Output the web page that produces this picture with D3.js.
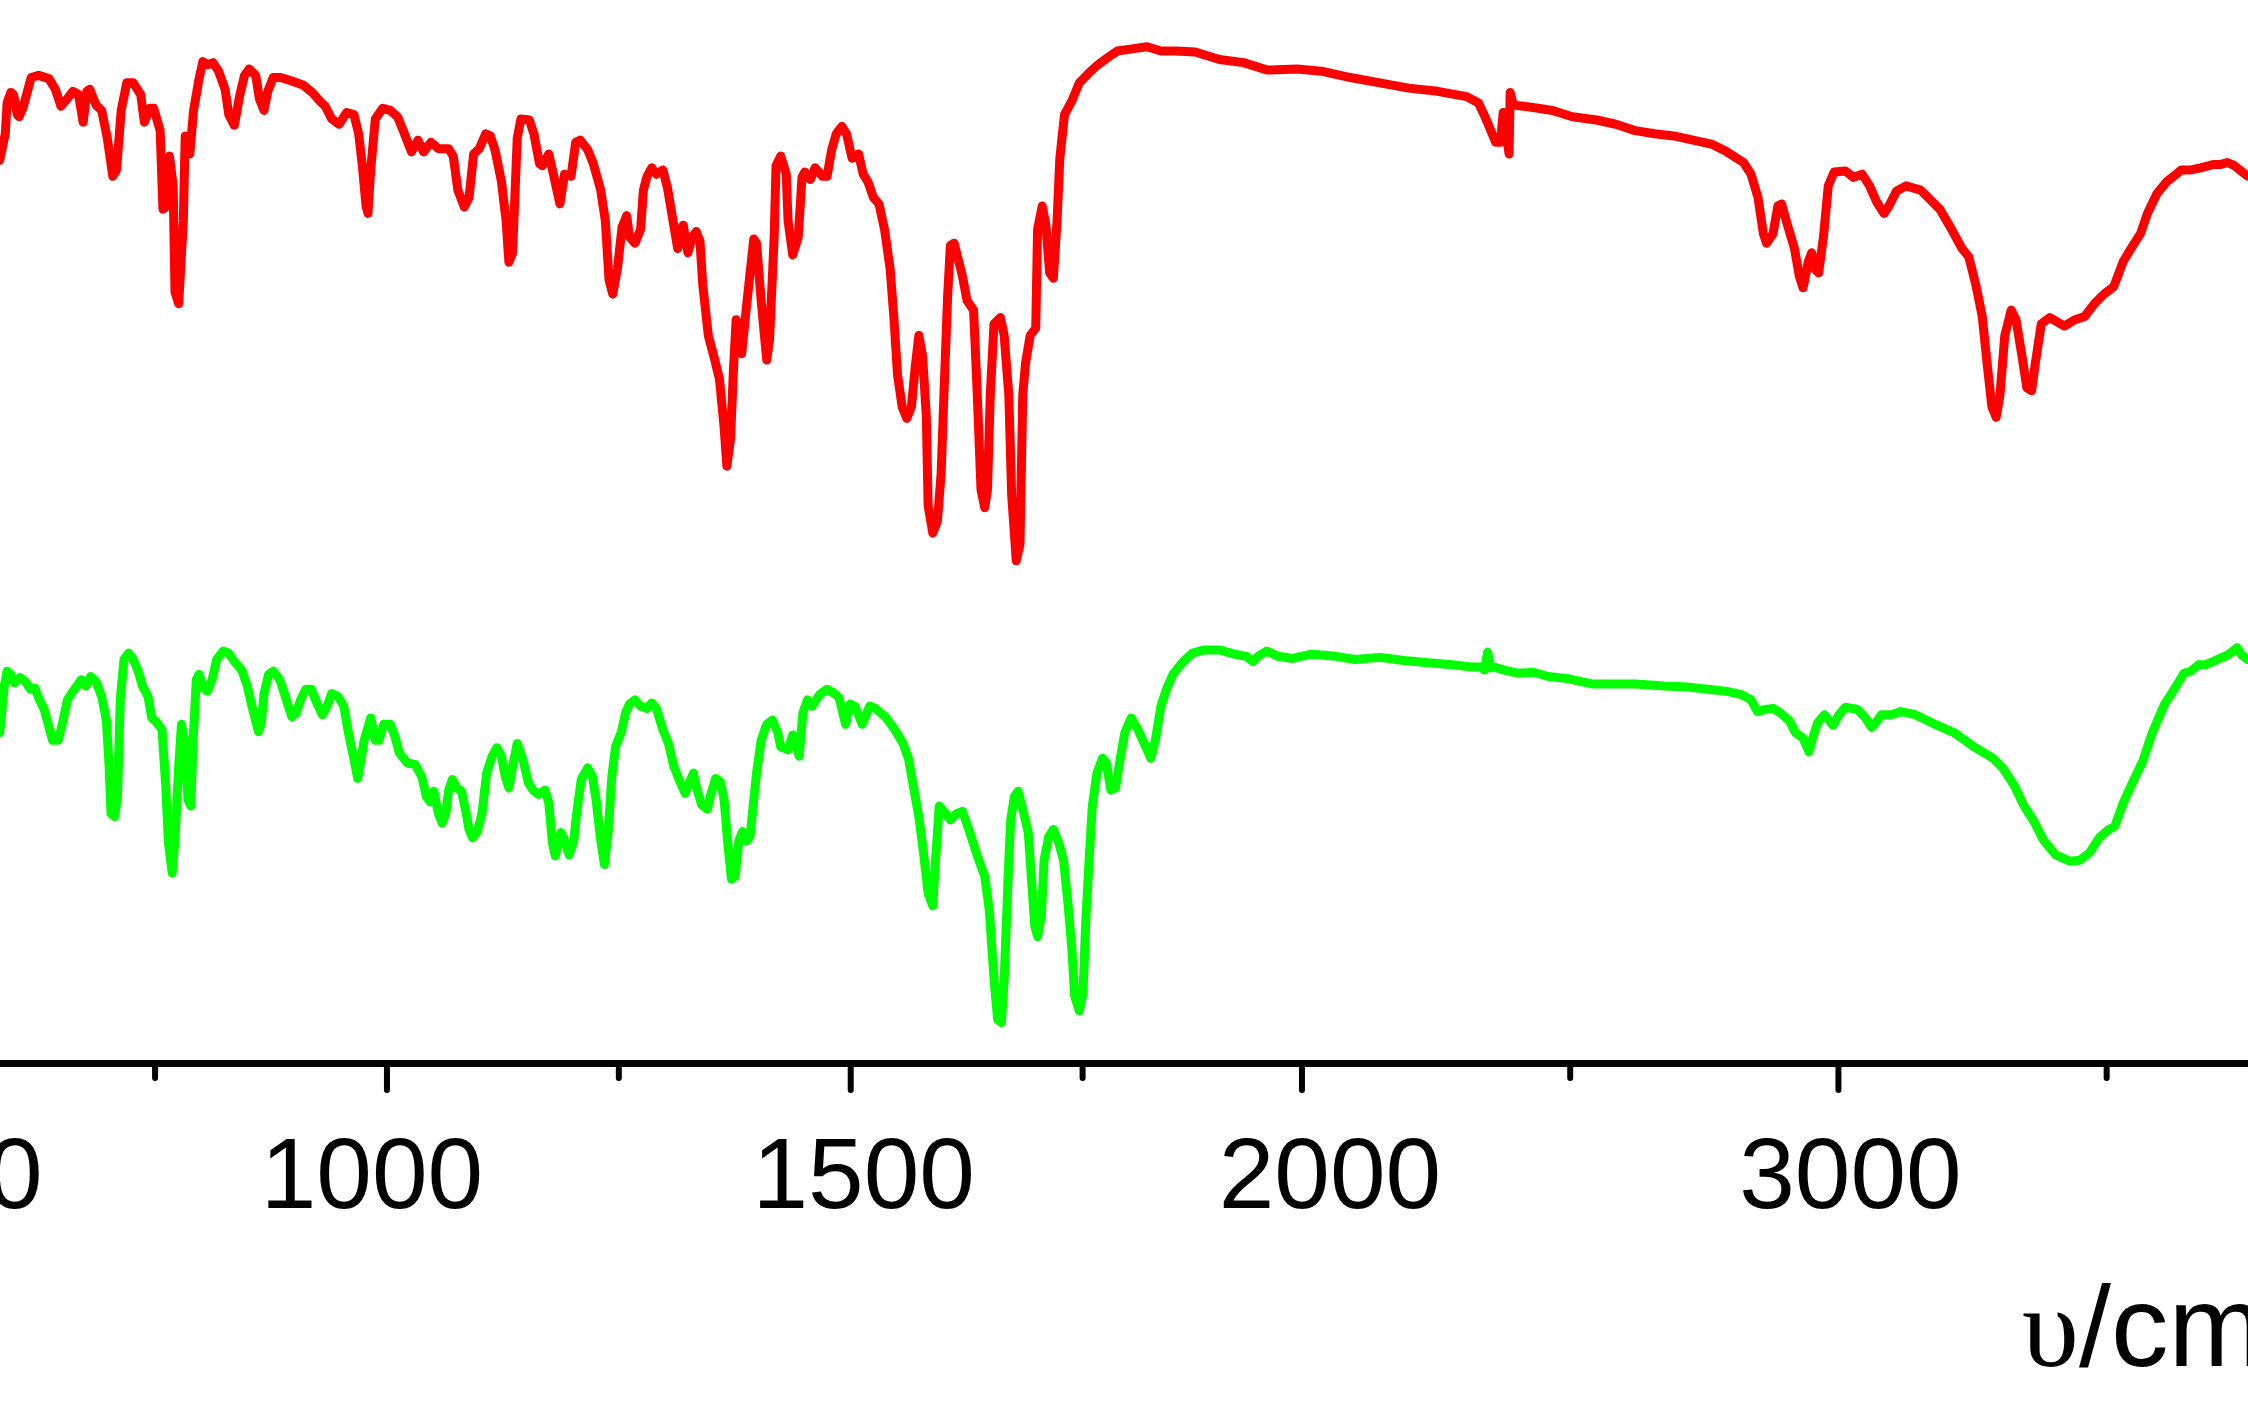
<!DOCTYPE html>
<html>
<head>
<meta charset="utf-8">
<script src="https://cdn.jsdelivr.net/npm/d3@7"></script>
<style>
  body { margin: 0; background: #fff; }
  svg { display: block; }
</style>
</head>
<body>
<script>
const width = 2248;
const height = 1405;

// tick values (wavenumber, cm-1)
const majorTicks = [500, 1000, 1500, 2000, 3000];
const minorTicks = [750, 1250, 1750, 2500, 3500];

// [wavenumber, transmittance %]
const redSpectrum = [[583,84.9],[589,87.4],[591,90.3],[595,91.3],[598,91.1],[602,89.2],[604,89.0],[608,89.8],[612,91.1],[617,92.7],[625,92.9],[636,92.6],[643,91.6],[649,90.0],[654,90.5],[662,91.4],[668,91.1],[673,88.5],[677,91.4],[680,91.6],[687,90.1],[693,89.6],[699,87.0],[705,83.4],[709,84.0],[714,89.6],[720,92.2],[727,92.2],[735,91.1],[739,88.5],[745,89.8],[749,89.8],[756,87.7],[759,80.3],[762,80.5],[766,85.3],[770,82.5],[772,72.5],[776,71.4],[781,79.2],[783,87.2],[788,85.5],[792,89.6],[798,92.6],[802,94.2],[807,93.9],[813,94.1],[819,93.3],[826,91.6],[830,89.2],[836,88.2],[842,91.1],[847,92.9],[852,93.5],[859,92.9],[863,90.7],[868,89.6],[872,91.4],[878,92.7],[886,92.7],[897,92.4],[910,92.0],[920,91.3],[928,90.5],[934,90.0],[941,88.8],[949,88.3],[957,89.4],[965,89.2],[970,87.4],[974,84.4],[978,80.6],[980,79.9],[983,84.0],[988,88.8],[996,89.8],[1004,89.6],[1012,89.0],[1019,87.5],[1027,85.7],[1034,86.8],[1040,85.7],[1048,86.6],[1056,86.0],[1067,86.0],[1072,85.3],[1077,82.1],[1084,80.5],[1089,81.4],[1094,85.5],[1100,86.0],[1107,87.4],[1112,87.2],[1117,85.9],[1124,82.9],[1129,79.2],[1132,75.3],[1136,76.2],[1141,87.0],[1145,88.8],[1154,88.7],[1159,87.4],[1165,84.6],[1168,84.4],[1175,85.5],[1180,83.6],[1187,80.8],[1192,83.6],[1199,83.4],[1204,86.6],[1209,86.8],[1217,85.9],[1223,84.6],[1231,82.1],[1236,79.2],[1240,73.6],[1244,72.3],[1249,74.7],[1254,78.6],[1259,79.7],[1262,77.7],[1268,77.1],[1274,78.4],[1277,82.1],[1281,83.4],[1286,84.2],[1291,83.6],[1298,84.0],[1303,82.3],[1309,79.2],[1314,76.6],[1320,78.8],[1325,76.2],[1330,77.7],[1334,78.2],[1338,77.3],[1341,73.2],[1347,68.4],[1354,66.1],[1359,64.3],[1364,59.8],[1367,56.1],[1371,58.7],[1374,65.0],[1377,69.9],[1383,66.7],[1388,71.0],[1396,77.5],[1399,77.1],[1404,71.7],[1410,66.1],[1413,68.0],[1418,77.7],[1420,84.4],[1425,85.3],[1431,83.6],[1433,79.2],[1438,76.0],[1444,77.7],[1448,83.3],[1451,83.8],[1457,83.1],[1462,84.2],[1470,83.4],[1475,83.4],[1480,85.9],[1485,87.4],[1491,88.1],[1496,87.4],[1502,85.1],[1509,85.5],[1514,83.6],[1519,82.9],[1525,81.4],[1531,80.8],[1537,78.4],[1543,74.7],[1547,70.2],[1551,64.7],[1556,61.7],[1561,60.6],[1566,61.7],[1570,65.4],[1574,68.4],[1578,66.5],[1582,60.9],[1584,52.4],[1589,49.8],[1594,50.9],[1598,55.4],[1601,62.8],[1605,72.1],[1608,76.9],[1612,77.1],[1617,75.4],[1621,74.0],[1626,71.7],[1633,70.8],[1637,62.8],[1641,53.9],[1645,52.2],[1648,53.9],[1651,62.8],[1655,69.5],[1662,70.1],[1666,68.4],[1671,62.8],[1674,53.5],[1679,47.2],[1683,48.7],[1686,62.8],[1689,65.8],[1694,68.4],[1700,69.1],[1702,78.4],[1707,80.6],[1711,78.8],[1715,74.3],[1719,73.8],[1723,79.2],[1726,85.1],[1731,89.2],[1739,90.5],[1747,92.2],[1757,93.1],[1767,93.9],[1778,94.6],[1788,95.2],[1804,95.4],[1820,95.6],[1835,95.2],[1851,95.2],[1872,95.1],[1898,94.4],[1924,94.1],[1950,93.4],[1992,93.5],[2037,93.3],[2091,92.7],[2146,92.2],[2200,91.7],[2254,91.4],[2308,90.9],[2330,90.3],[2344,88.8],[2362,86.6],[2371,86.6],[2376,89.4],[2381,87.7],[2387,85.5],[2389,91.3],[2395,90.1],[2414,90.0],[2441,89.8],[2468,89.6],[2505,89.0],[2550,88.7],[2586,88.3],[2622,87.7],[2658,87.4],[2694,87.2],[2730,86.8],[2766,86.4],[2793,85.7],[2824,84.7],[2838,83.6],[2851,81.4],[2861,78.0],[2867,77.1],[2879,78.0],[2888,80.6],[2895,80.8],[2906,78.8],[2919,76.6],[2928,74.0],[2935,72.9],[2945,75.4],[2951,76.2],[2957,74.7],[2964,74.3],[2973,77.7],[2982,82.5],[2993,83.8],[3014,83.9],[3029,83.3],[3045,83.6],[3059,82.5],[3072,81.0],[3086,79.9],[3095,80.6],[3109,82.0],[3127,82.5],[3154,82.1],[3172,81.2],[3190,80.3],[3212,78.4],[3230,76.7],[3244,75.8],[3257,73.2],[3269,70.2],[3278,65.8],[3287,61.7],[3295,60.7],[3302,62.8],[3311,68.4],[3323,70.8],[3332,69.9],[3343,66.5],[3352,63.5],[3361,63.2],[3368,65.8],[3379,69.5],[3395,70.1],[3422,69.3],[3442,69.9],[3460,70.2],[3478,71.4],[3496,72.3],[3514,73.0],[3532,75.4],[3550,76.9],[3564,78.0],[3577,79.9],[3595,81.8],[3613,82.9],[3631,83.6],[3640,84.0],[3658,84.0],[3676,84.2],[3699,84.5],[3712,84.5],[3726,84.7],[3739,84.4],[3764,83.4]];

const greenSpectrum = [[583,31.0],[588,35.4],[591,36.8],[595,36.5],[599,35.7],[605,36.2],[611,35.8],[616,35.1],[621,35.2],[626,34.1],[631,33.2],[636,31.6],[640,30.3],[646,30.3],[650,31.6],[656,34.1],[662,34.9],[667,35.5],[671,36.0],[676,35.4],[681,36.3],[687,35.8],[693,34.4],[698,32.2],[701,27.8],[703,23.4],[707,23.1],[710,25.0],[713,34.1],[717,37.9],[722,38.5],[727,37.9],[732,36.9],[737,35.4],[743,34.4],[747,32.4],[751,32.1],[758,31.3],[762,26.0],[765,20.6],[769,17.8],[772,20.9],[776,27.8],[779,31.8],[783,30.0],[786,24.7],[789,24.1],[792,31.0],[795,36.0],[798,36.5],[803,35.2],[807,34.9],[812,36.0],[817,37.9],[824,38.7],[830,38.5],[836,37.7],[844,36.9],[850,35.4],[855,33.5],[862,31.1],[865,31.9],[868,34.7],[873,36.5],[878,36.8],[885,36.0],[891,34.4],[898,32.5],[903,32.9],[907,34.0],[913,35.1],[919,35.1],[925,33.8],[931,32.7],[936,33.5],[941,34.7],[948,34.4],[954,33.5],[959,31.0],[965,28.5],[969,26.7],[972,28.2],[976,30.3],[983,32.4],[988,30.3],[992,30.3],[997,31.8],[1004,31.8],[1009,30.7],[1014,29.1],[1022,28.2],[1031,28.0],[1038,26.9],[1043,25.0],[1047,24.5],[1051,25.5],[1056,23.4],[1060,22.5],[1064,23.4],[1067,25.6],[1071,26.6],[1076,25.8],[1081,25.5],[1086,23.4],[1089,21.9],[1093,21.1],[1098,21.7],[1103,23.4],[1108,27.2],[1114,28.8],[1119,29.6],[1124,28.8],[1128,26.9],[1132,25.8],[1136,27.8],[1141,30.0],[1147,28.5],[1153,26.3],[1158,25.6],[1164,25.2],[1171,25.6],[1175,24.4],[1179,20.6],[1182,19.4],[1188,21.6],[1192,20.9],[1197,19.5],[1202,20.9],[1205,23.4],[1210,26.6],[1217,27.7],[1222,26.9],[1226,24.7],[1231,20.9],[1235,18.6],[1239,21.6],[1243,26.9],[1247,29.7],[1253,31.0],[1258,32.9],[1262,33.7],[1268,34.1],[1274,33.5],[1281,33.3],[1286,33.8],[1291,33.3],[1298,31.3],[1304,30.0],[1310,27.8],[1317,26.3],[1322,25.3],[1328,26.6],[1331,27.2],[1335,25.6],[1340,24.2],[1346,23.8],[1350,25.3],[1355,26.7],[1360,26.4],[1364,24.7],[1368,20.6],[1372,17.2],[1376,17.5],[1380,20.9],[1384,21.7],[1388,20.8],[1392,21.2],[1396,24.7],[1399,27.2],[1404,30.3],[1410,31.8],[1416,32.2],[1422,31.0],[1425,29.7],[1433,29.4],[1438,30.8],[1445,28.8],[1449,32.9],[1454,34.1],[1459,33.5],[1467,34.6],[1475,35.1],[1483,34.7],[1488,34.3],[1495,31.8],[1500,33.7],[1505,33.5],[1513,31.8],[1521,33.5],[1527,33.3],[1538,32.5],[1548,31.3],[1557,30.0],[1563,28.5],[1568,26.0],[1574,23.1],[1579,19.7],[1584,15.9],[1589,14.7],[1592,19.0],[1596,24.1],[1603,23.4],[1608,22.8],[1615,23.4],[1621,23.6],[1629,21.6],[1637,19.4],[1645,17.5],[1650,14.3],[1653,10.3],[1656,6.8],[1659,4.0],[1663,3.7],[1666,7.8],[1670,16.9],[1673,22.8],[1677,25.0],[1681,25.5],[1686,23.8],[1692,21.6],[1696,16.5],[1699,12.8],[1702,11.8],[1706,13.7],[1709,19.0],[1714,21.2],[1719,21.9],[1725,20.6],[1730,19.0],[1735,14.7],[1739,10.6],[1742,6.2],[1747,4.8],[1751,6.5],[1754,13.4],[1758,19.7],[1761,24.1],[1766,27.2],[1772,28.6],[1776,28.2],[1781,25.6],[1786,25.8],[1791,28.5],[1796,31.0],[1803,32.4],[1809,31.5],[1817,30.0],[1824,28.6],[1829,30.3],[1835,33.5],[1841,35.1],[1848,36.5],[1859,37.7],[1869,38.5],[1882,38.8],[1898,38.8],[1914,38.4],[1927,38.2],[1934,37.7],[1940,38.2],[1949,38.7],[1961,38.2],[1983,38.0],[2019,38.4],[2064,38.2],[2100,37.9],[2146,38.1],[2191,37.8],[2236,37.6],[2281,37.4],[2317,37.2],[2335,37.2],[2341,36.9],[2347,38.6],[2353,37.1],[2359,37.2],[2378,36.9],[2405,36.6],[2432,36.7],[2460,36.3],[2496,36.1],[2541,35.6],[2622,35.6],[2676,35.4],[2721,35.3],[2757,35.1],[2793,34.9],[2820,34.6],[2838,34.1],[2850,33.0],[2865,33.2],[2879,33.3],[2892,32.9],[2910,32.1],[2921,31.0],[2935,30.5],[2946,29.2],[2953,30.5],[2962,31.9],[2975,32.7],[2991,31.7],[3002,32.7],[3014,33.4],[3036,33.2],[3050,32.5],[3063,31.5],[3073,32.1],[3081,32.7],[3100,32.7],[3117,33.0],[3144,32.7],[3181,31.8],[3217,31.0],[3253,29.7],[3289,28.6],[3307,27.7],[3329,26.0],[3347,24.1],[3365,22.7],[3383,20.9],[3406,19.5],[3433,18.9],[3451,19.0],[3469,19.7],[3487,21.1],[3505,21.9],[3516,22.2],[3532,24.4],[3550,26.4],[3568,28.3],[3586,31.0],[3609,33.7],[3627,35.1],[3645,36.6],[3658,36.8],[3672,37.4],[3685,37.4],[3699,37.7],[3712,38.0],[3726,38.3],[3744,39.0],[3753,38.3],[3764,37.9]];

const svg = d3.select("body")
    .append("svg")
    .attr("width", width)
    .attr("height", height);

// the axis is squeezed above ~1970 cm-1 (two linear pieces)
const x = d3.scaleLinear()
    .domain([500, 1968, 4000])
    .range([-77.3, 1284.3, 2374.4]);

const y = d3.scaleLinear()
    .domain([0, 100])
    .range([1062, 0]);

const axisY = 1063;

const line = d3.line()
    .x(d => x(d[0]))
    .y(d => y(d[1]));

svg.append("path")
    .datum(greenSpectrum)
    .attr("fill", "none")
    .attr("stroke", "#00ff00")
    .attr("stroke-width", 9)
    .attr("stroke-linejoin", "round")
    .attr("stroke-linecap", "round")
    .attr("d", line);

svg.append("path")
    .datum(redSpectrum)
    .attr("fill", "none")
    .attr("stroke", "#ff0000")
    .attr("stroke-width", 9)
    .attr("stroke-linejoin", "round")
    .attr("stroke-linecap", "round")
    .attr("d", line);

// minor ticks
const minorAxis = svg.append("g")
    .attr("transform", "translate(0," + axisY + ")")
    .call(d3.axisBottom(x).tickValues(minorTicks).tickSizeInner(15).tickSizeOuter(0).tickFormat(""));
minorAxis.select(".domain").remove();
minorAxis.selectAll(".tick line")
    .attr("stroke", "#000")
    .attr("stroke-width", 6)
    .attr("stroke-linecap", "round");

// major ticks + labels (labels sit a bit off their ticks in the original)
const labelNudge = {500: 36, 1000: -15, 1500: 13, 2000: 28, 3000: 12};

const majorAxis = svg.append("g")
    .attr("transform", "translate(0," + axisY + ")")
    .call(d3.axisBottom(x).tickValues(majorTicks).tickSizeInner(27).tickSizeOuter(0).tickFormat(d3.format("d")));
majorAxis.select(".domain")
    .attr("stroke", "#000")
    .attr("stroke-width", 7);
majorAxis.selectAll(".tick line")
    .attr("stroke", "#000")
    .attr("stroke-width", 6)
    .attr("stroke-linecap", "round");
majorAxis.selectAll(".tick text")
    .attr("x", d => labelNudge[d] || 0)
    .attr("y", 145)
    .attr("dy", 0)
    .attr("fill", "#000")
    .style("font-family", "'Liberation Sans', Arial, sans-serif")
    .style("font-size", "100px");

// axis title, runs off the right edge like the original
const title = svg.append("text")
    .attr("x", 2022)
    .attr("y", 1366)
    .style("font-family", "'Liberation Sans', Arial, sans-serif")
    .style("font-size", "115px")
    .attr("fill", "#000");
title.append("tspan").style("font-family", "'Liberation Serif', 'Times New Roman', serif").text("υ");
title.append("tspan").text("/cm");
</script>
</body>
</html>
